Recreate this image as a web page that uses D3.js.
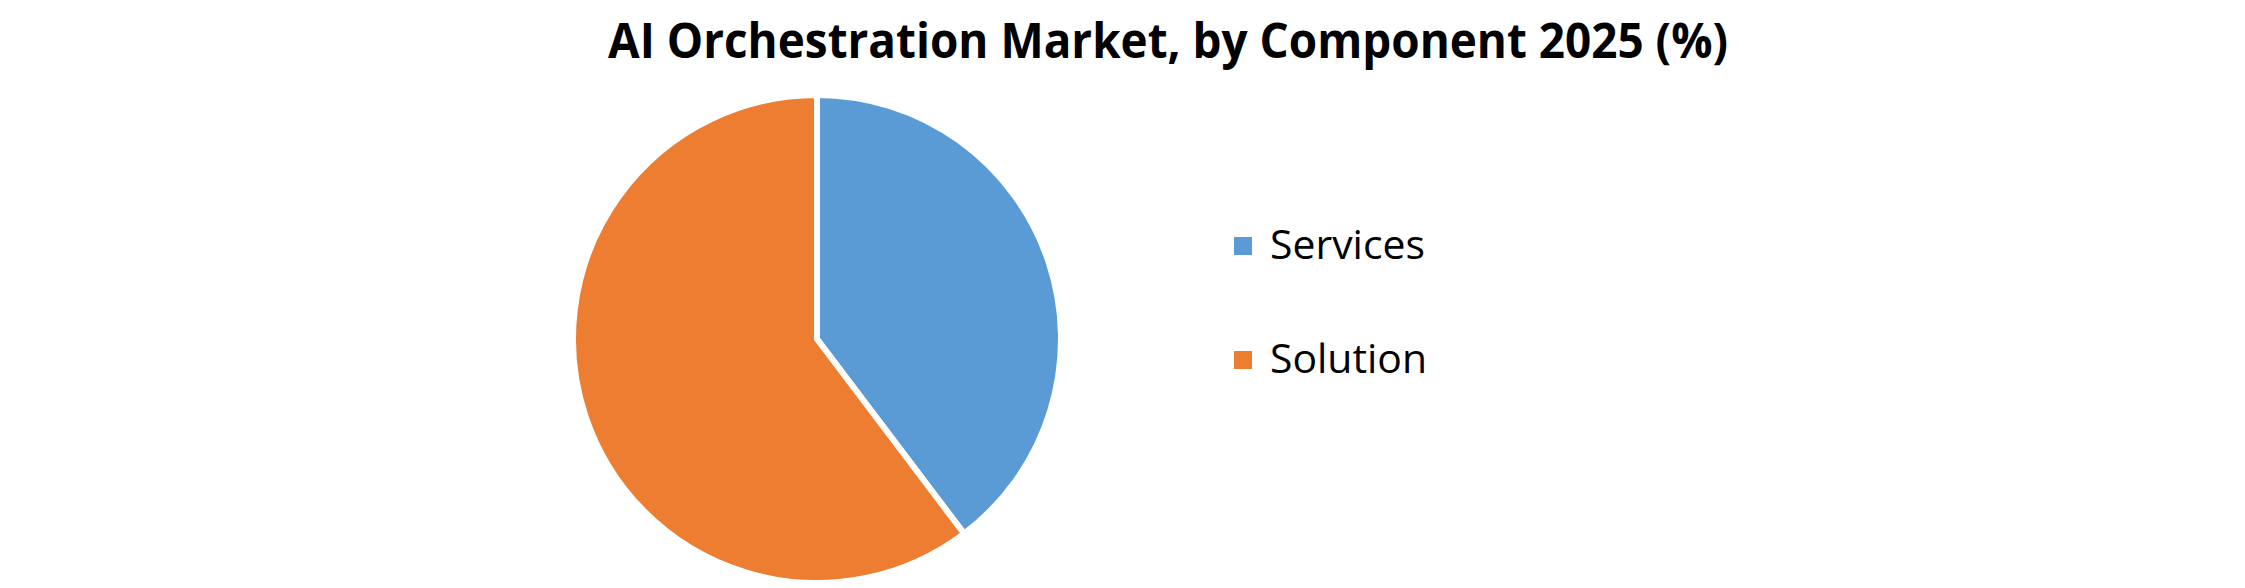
<!DOCTYPE html>
<html>
<head>
<meta charset="utf-8">
<script src="https://cdn.jsdelivr.net/npm/d3@7"></script>
<style>
  html, body { margin: 0; padding: 0; background: #fff; }
  svg { display: block; }
</style>
</head>
<body>
<div id="chart"></div>
<script>
const title = "AI Orchestration Market, by Component 2025 (%)";
const categories = ["Services", "Solution"];
const shares = [39.7, 60.3];
const colors = ["#5B9BD5", "#ED7D31"];

const width = 2245, height = 588;
const cx = 817, cy = 339, radius = 244;

const svg = d3.select("#chart")
  .append("svg")
    .attr("width", width)
    .attr("height", height);

// title
svg.append("text")
    .attr("x", 1168)
    .attr("y", 58)
    .attr("text-anchor", "middle")
    .attr("font-family", "'Open Sans', sans-serif")
    .attr("font-weight", "bold")
    .attr("font-size", 49)
    .attr("textLength", 1120)
    .attr("lengthAdjust", "spacingAndGlyphs")
    .attr("fill", "#000")
    .text(title);

// pie, clockwise from 12 o'clock
const pie = d3.pie().sort(null).value(d => d);
const arc = d3.arc().innerRadius(0).outerRadius(radius);

const g = svg.append("g")
    .attr("transform", `translate(${cx}, ${cy})`);

g.selectAll("path")
  .data(pie(shares))
  .join("path")
    .attr("d", arc)
    .attr("fill", (d, i) => colors[i])
    .attr("stroke", "#fff")
    .attr("stroke-width", 6)
    .attr("stroke-linejoin", "miter");

// legend
const legendY = d3.scalePoint()
  .domain(categories)
  .range([259, 373]);

const legend = svg.append("g");
const item = legend.selectAll("g")
  .data(categories)
  .join("g")
    .attr("transform", d => `translate(1234, ${legendY(d)})`);

item.append("rect")
    .attr("x", 0)
    .attr("y", -22)
    .attr("width", 18)
    .attr("height", 18)
    .attr("fill", (d, i) => colors[i]);

item.append("text")
    .attr("x", 36)
    .attr("y", 0)
    .attr("font-family", "'Open Sans', sans-serif")
    .attr("font-size", 41)
    .attr("textLength", (d, i) => i === 0 ? 155 : 157)
    .attr("lengthAdjust", "spacingAndGlyphs")
    .attr("fill", "#000")
    .text(d => d);
</script>
</body>
</html>
